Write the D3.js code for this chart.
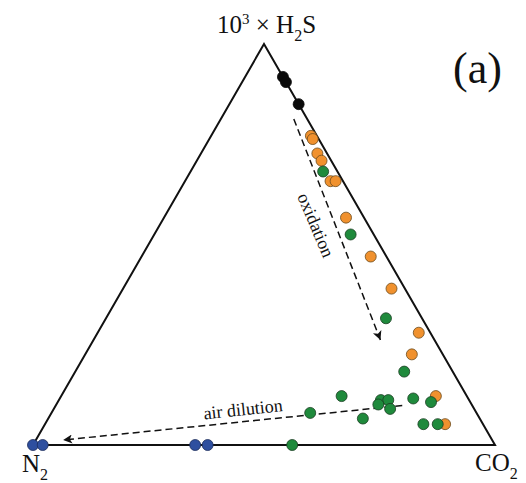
<!DOCTYPE html>
<html>
<head>
<meta charset="utf-8">
<script src="https://cdn.jsdelivr.net/npm/d3@7"></script>
<style>
  body { margin: 0; background: #fff; }
  svg text { font-family: "Liberation Serif", "DejaVu Serif", serif; fill: #111; }
</style>
</head>
<body>
<svg width="526" height="483"></svg>
<script>
// compositions in percent: h = 10^3 x H2S, c = CO2 (N2 is the rest)
var blackH = [91.8, 90.5, 85.0];
var blackC = [8.2, 9.5, 15.0];

var orangeH = [77.1, 76.3, 72.7, 70.9, 65.8, 65.8, 56.7, 47.0, 39.0, 28.0, 22.6, 12.2, 5.2];
var orangeC = [21.6, 22.4, 25.2, 27.0, 31.5, 32.6, 39.4, 49.6, 58.1, 69.5, 70.7, 81.1, 86.6];

var greenH = [68.2, 52.5, 31.6, 18.3, 12.2, 8.0, 6.6, 11.2, 11.2, 10.1, 9.0, 11.6, 10.7, 5.2, 5.2, 0];
var greenC = [28.7, 42.5, 60.6, 71.2, 60.7, 56.0, 68.1, 69.7, 71.3, 69.7, 72.8, 76.5, 80.8, 81.9, 85.0, 56.1];

var blueH = [0, 0, 0, 0];
var blueC = [0, 2.1, 35.1, 37.8];

// arrows: [start, end] as [h, c]
var oxidation = [[81.3, 15.8], [26.2, 62.1]];
var airDilution = [[9.85, 75.0], [1.25, 5.9]];

var svg = d3.select("svg");

var xs = d3.scaleLinear().domain([0, 100]).range([33, 495]);
var ys = d3.scaleLinear().domain([0, 100]).range([445, 44]);

function px(h, c) { return xs(c + h / 2); }
function py(h) { return ys(h); }

// triangle
var corners = [[100, 0], [0, 0], [0, 100]];
svg.append("path")
    .attr("d", d3.line().x(function(d) { return px(d[0], d[1]); }).y(function(d) { return py(d[0]); })(corners) + "Z")
    .attr("fill", "none")
    .attr("stroke", "#111")
    .attr("stroke-width", 2);

// arrow heads
var defs = svg.append("defs");
defs.append("marker")
    .attr("id", "head")
    .attr("viewBox", "0 0 10 10")
    .attr("refX", 10).attr("refY", 5)
    .attr("markerWidth", 13).attr("markerHeight", 9)
    .attr("markerUnits", "userSpaceOnUse")
    .attr("orient", "auto")
    .append("path")
    .attr("d", "M0,0L10,5L0,10L2.5,5Z")
    .attr("fill", "#111");

[oxidation, airDilution].forEach(function(a) {
    svg.append("line")
        .attr("x1", px(a[0][0], a[0][1])).attr("y1", py(a[0][0]))
        .attr("x2", px(a[1][0], a[1][1])).attr("y2", py(a[1][0]))
        .attr("stroke", "#111")
        .attr("stroke-width", 1.5)
        .attr("stroke-dasharray", "7,4")
        .attr("marker-end", "url(#head)");
});

function dots(H, C, fill, stroke) {
    svg.append("g").selectAll("circle")
        .data(H.map(function(h, i) { return {h: h, c: C[i]}; }))
        .enter().append("circle")
        .attr("cx", function(d) { return px(d.h, d.c); })
        .attr("cy", function(d) { return py(d.h); })
        .attr("r", 5.5)
        .attr("fill", fill)
        .attr("stroke", stroke)
        .attr("stroke-width", 0.8);
}
dots(blackH, blackC, "#0a0a0a", "#0a0a0a");
dots(orangeH, orangeC, "#f0912e", "#6b4a1c");
dots(greenH, greenC, "#1f8a3c", "#1b3d22");
dots(blueH, blueC, "#2e4f9f", "#1d2d5a");

// corner labels
var topLabel = svg.append("text").attr("x", 217).attr("y", 33).attr("font-size", 25);
topLabel.append("tspan").text("10");
topLabel.append("tspan").attr("font-size", 15).attr("dy", -9).text("3");
topLabel.append("tspan").attr("dy", 9).text(" \u00d7 H");
topLabel.append("tspan").attr("font-size", 16).attr("dy", 8).text("2");
topLabel.append("tspan").attr("dy", -8).text("S");

var n2 = svg.append("text").attr("x", 22).attr("y", 472).attr("font-size", 25);
n2.append("tspan").text("N");
n2.append("tspan").attr("font-size", 16).attr("dy", 8).text("2");

var co2 = svg.append("text").attr("x", 475).attr("y", 471).attr("font-size", 25);
co2.append("tspan").text("CO");
co2.append("tspan").attr("font-size", 16).attr("dy", 8).text("2");

svg.append("text")
    .attr("x", 453).attr("y", 83)
    .attr("font-size", 44)
    .text("(a)");

svg.append("text")
    .attr("transform", "translate(316,225) rotate(67)")
    .attr("text-anchor", "middle")
    .attr("dy", "0.35em")
    .attr("font-size", 18)
    .text("oxidation");

svg.append("text")
    .attr("transform", "translate(243,409) rotate(-6)")
    .attr("text-anchor", "middle")
    .attr("dy", "0.35em")
    .attr("font-size", 18)
    .text("air dilution");
</script>
</body>
</html>
